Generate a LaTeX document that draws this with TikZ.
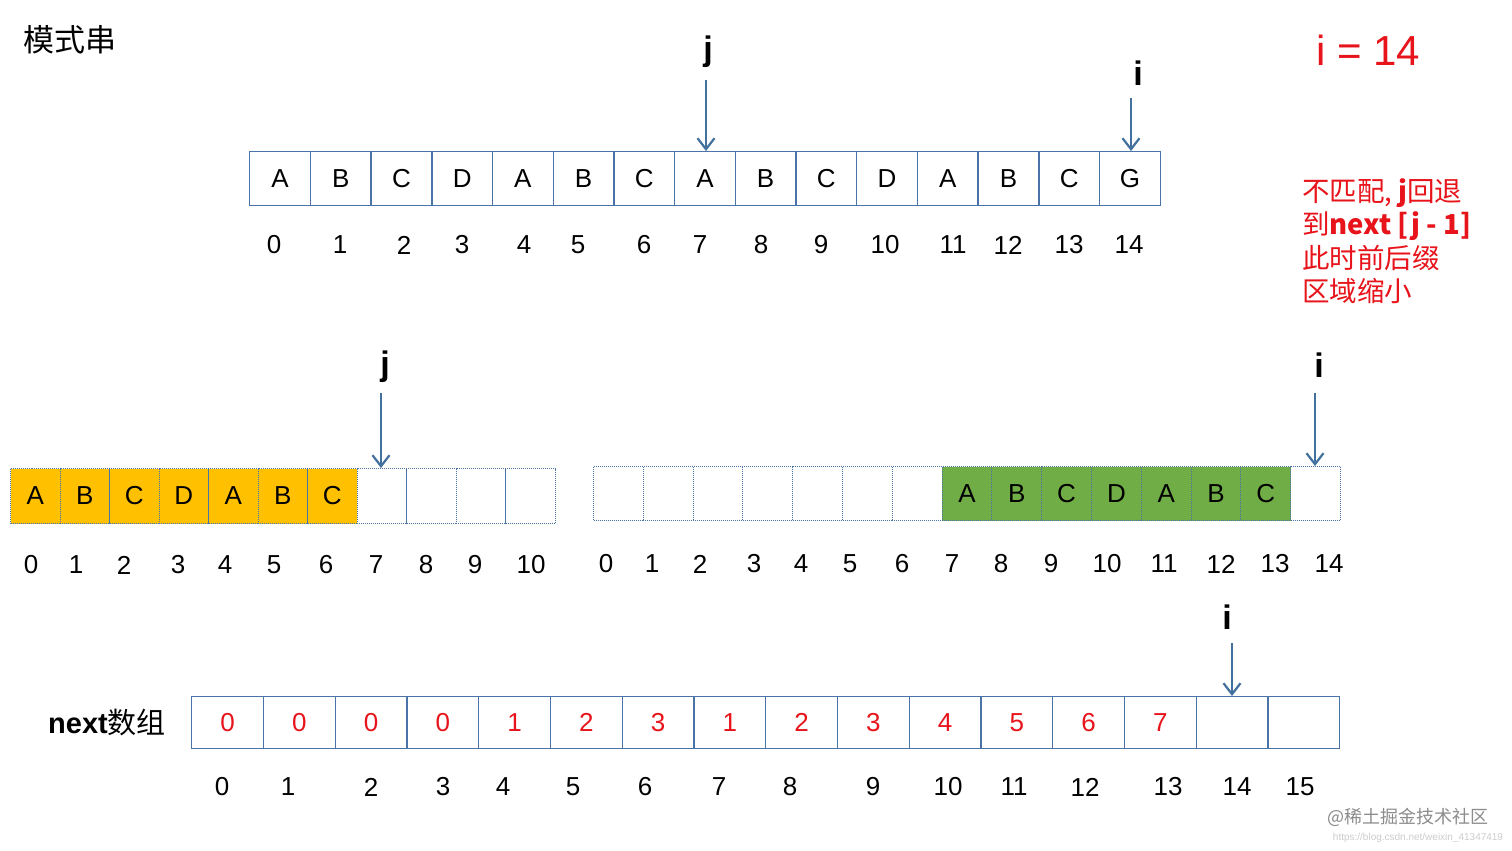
\documentclass[tikz,border=0pt]{standalone}
\usepackage{fontspec}
\setmainfont{Liberation Sans}
\newfontfamily\cjk{Noto Sans CJK SC}
\usetikzlibrary{arrows.meta}
\definecolor{bd}{HTML}{4A74A8}
\definecolor{ar}{HTML}{41719C}
\definecolor{yel}{HTML}{FFC000}
\definecolor{grn}{HTML}{70AD47}
\definecolor{rd}{HTML}{E8141B}
\begin{document}
\begin{tikzpicture}[x=1pt,y=-1pt,
 cell/.style={draw=bd,line width=1.4pt,minimum height=#1,inner sep=0pt,font=\fontsize{26}{26}\selectfont,anchor=north west},
 dcell/.style={draw=bd,densely dotted,line width=1pt,inner sep=0pt,font=\fontsize{26}{26}\selectfont,anchor=north west},
 idx/.style={font=\fontsize{26}{26}\selectfont},
 ptr/.style={draw=ar,line width=2.2pt,-{Straight Barb[length=11pt,width=17pt]}},
 plab/.style={font=\bfseries\fontsize{34}{34}\selectfont}]
\useasboundingbox (0,0) rectangle (1512,851);
\fill[white] (0,0) rectangle (1512,851);
\node[font=\cjk\fontsize{31}{31}\selectfont] (title) at (70,40) {模式串};
\node[font=\fontsize{42}{42}\selectfont,text=rd] (ieq) at (1368,50) {i = 14};
\node[text=rd,align=left,anchor=north west,font=\cjk\fontsize{27.5}{33.5}\selectfont,inner sep=0pt] (note) at (1302,178)
 {不匹配, \textbf{j}回退\\到\textbf{next [j - 1]}\\此时前后缀\\区域缩小};
% row 1
\foreach [count=\k from 0] \c in {A,B,C,D,A,B,C,A,B,C,D,A,B,C,G}
 \node[cell=54pt,minimum width=60.7pt] (a\k) at ({249+60.7*\k},151) {\c};
\foreach [count=\k from 0] \x in {274,340,404,462,524,578,644,700,761,821,885,953,1008,1069,1129}
 \node[idx] (la\k) at (\x,245) {\k};
\node[plab] (j1) at (708,52) {j};
\node[plab] (i1) at (1138,73) {i};
\coordinate (j1s) at (706,80); \coordinate (i1s) at (1131,98);
\draw[ptr] (j1s) -- (a7.north -| j1s);
\draw[ptr] (i1s) -- (a14.north -| i1s);
% row 2 left
\foreach \k in {0,...,10}{
 \ifnum\k<7 \def\f{yel}\else\def\f{white}\fi
 \node[dcell,fill=\f,minimum width=49.5pt,minimum height=55pt] (b\k) at ({10+49.5*\k},468) {};}
\foreach [count=\k from 0] \c in {A,B,C,D,A,B,C} \node[font=\fontsize{26}{26}\selectfont] at (b\k) {\c};
\foreach [count=\k from 0] \x in {31,76,124,178,225,274,326,376,426,475,531}
 \node[idx] (lb\k) at (\x,565) {\k};
\node[plab] (j2) at (385,367) {j};
\coordinate (j2s) at (381,393);
\draw[ptr] (j2s) -- (b7.north -| j2s);
% row 2 right
\foreach \k in {0,...,14}{
 \ifnum\k>6 \ifnum\k<14 \def\f{grn}\else\def\f{white}\fi\else\def\f{white}\fi
 \node[dcell,fill=\f,minimum width=49.8pt,minimum height=54pt] (c\k) at ({593+49.8*\k},466) {};}
\foreach [count=\k from 7] \c in {A,B,C,D,A,B,C} \node[font=\fontsize{26}{26}\selectfont] at (c\k) {\c};
\foreach [count=\k from 0] \x in {606,652,700,754,801,850,902,952,1001,1051,1107,1164,1221,1275,1329}
 \node[idx] (lc\k) at (\x,564) {\k};
\node[plab] (i2) at (1319,365) {i};
\coordinate (i2s) at (1315,393);
\draw[ptr] (i2s) -- (c14.north -| i2s);
% row 3
\node[font=\fontsize{29}{29}\selectfont] (nx) at (107,722) {\textbf{next}{\cjk 数组}};
\foreach [count=\k from 0] \c in {0,0,0,0,1,2,3,1,2,3,4,5,6,7,{},{}}
 \node[cell=52pt,minimum width=71.75pt,text=rd] (d\k) at ({191+71.75*\k},696) {\c};
\foreach [count=\k from 0] \x in {222,288,371,443,503,573,645,719,790,873,948,1014,1085,1168,1237,1300}
 \node[idx] (ld\k) at (\x,787) {\k};
\node[plab] (i3) at (1227,617) {i};
\coordinate (i3s) at (1232,643);
\draw[ptr] (i3s) -- (d14.north -| i3s);
\node[text=black!45,font=\cjk\fontsize{18}{18}\selectfont] (wm) at (1408,817) {@稀土掘金技术社区};
\node[text=black!20,font=\fontsize{10}{10}\selectfont] (url) at (1418,838) {https://blog.csdn.net/weixin\_41347419};
\end{tikzpicture}
\end{document}
